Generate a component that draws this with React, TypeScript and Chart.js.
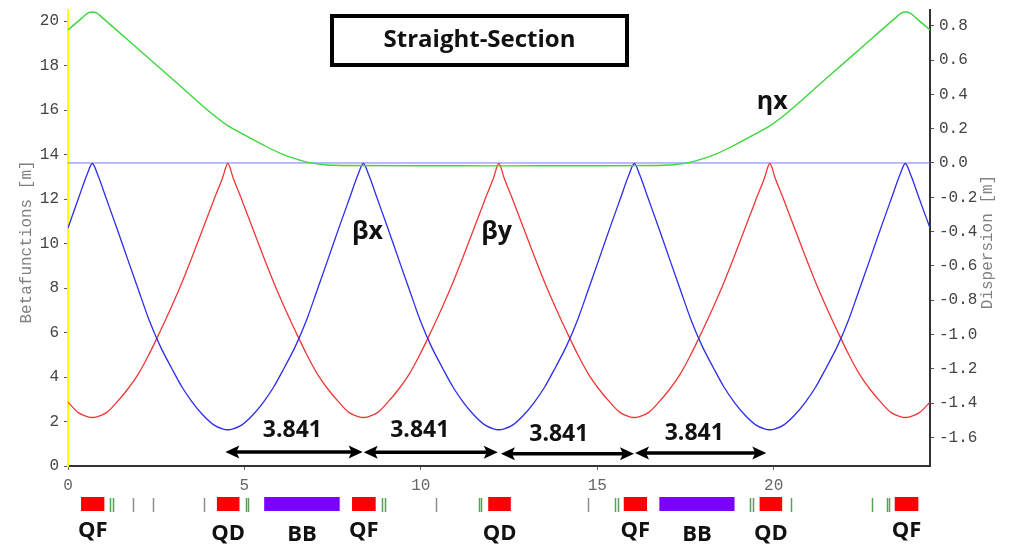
import React, { useEffect, useRef } from "react";
import { Chart, registerables } from "chart.js";

Chart.register(...registerables);

// ---------- data ----------
// longitudinal position s [m] for the beta functions
const S_POS = [
  0, 0.29, 0.54,
  0.69, 0.84, 1.09, 1.39, 1.69, 1.99, 2.29, 2.61, 2.93, 3.23, 3.53, 3.83, 4.13, 4.38,
  4.53, 4.68, 4.93, 5.23, 5.53, 5.83, 6.13, 6.45, 6.77, 7.07, 7.37, 7.67, 7.97, 8.22,
  8.37, 8.52, 8.77, 9.07, 9.37, 9.67, 9.97, 10.29, 10.61, 10.91, 11.21, 11.51, 11.81, 12.06,
  12.21, 12.36, 12.61, 12.91, 13.21, 13.51, 13.81, 14.13, 14.45, 14.75, 15.05, 15.35, 15.65, 15.9,
  16.05, 16.2, 16.45, 16.75, 17.05, 17.35, 17.65, 17.97, 18.29, 18.59, 18.89, 19.19, 19.49, 19.74,
  19.89, 20.04, 20.29, 20.59, 20.89, 21.19, 21.49, 21.81, 22.13, 22.43, 22.73, 23.03, 23.33, 23.58,
  23.73, 23.88, 24.13, 24.43,
];

// horizontal beta function βx [m] (blue)
const BETA_X = [
  10.7, 12.0, 13.1,
  13.6, 13.1, 12.0, 10.67, 9.3, 7.95, 6.6, 5.4, 4.42, 3.55, 2.85, 2.28, 1.85, 1.67,
  1.63, 1.67, 1.85, 2.28, 2.85, 3.55, 4.42, 5.4, 6.6, 7.95, 9.3, 10.67, 12.0, 13.1,
  13.6, 13.1, 12.0, 10.67, 9.3, 7.95, 6.6, 5.4, 4.42, 3.55, 2.85, 2.28, 1.85, 1.67,
  1.63, 1.67, 1.85, 2.28, 2.85, 3.55, 4.42, 5.4, 6.6, 7.95, 9.3, 10.67, 12.0, 13.1,
  13.6, 13.1, 12.0, 10.67, 9.3, 7.95, 6.6, 5.4, 4.42, 3.55, 2.85, 2.28, 1.85, 1.67,
  1.63, 1.67, 1.85, 2.28, 2.85, 3.55, 4.42, 5.4, 6.6, 7.95, 9.3, 10.67, 12.0, 13.1,
  13.6, 13.1, 12.0, 10.7,
];

// vertical beta function βy [m] (red)
const BETA_Y = [
  2.87, 2.4, 2.22,
  2.18, 2.22, 2.4, 2.88, 3.45, 4.13, 5.0, 6.05, 7.15, 8.25, 9.45, 10.7, 11.95, 12.95,
  13.6, 12.95, 11.95, 10.7, 9.45, 8.25, 7.15, 6.05, 5.0, 4.13, 3.45, 2.88, 2.4, 2.22,
  2.18, 2.22, 2.4, 2.88, 3.45, 4.13, 5.0, 6.05, 7.15, 8.25, 9.45, 10.7, 11.95, 12.95,
  13.6, 12.95, 11.95, 10.7, 9.45, 8.25, 7.15, 6.05, 5.0, 4.13, 3.45, 2.88, 2.4, 2.22,
  2.18, 2.22, 2.4, 2.88, 3.45, 4.13, 5.0, 6.05, 7.15, 8.25, 9.45, 10.7, 11.95, 12.95,
  13.6, 12.95, 11.95, 10.7, 9.45, 8.25, 7.15, 6.05, 5.0, 4.13, 3.45, 2.88, 2.4, 2.22,
  2.18, 2.22, 2.4, 2.87,
];

// dispersion ηx [m] (green) and its positions
const S_ETA = [
  0, 0.4, 0.55, 0.69, 0.83, 0.98, 2.0, 3.0, 4.23, 4.55, 4.88, 5.54, 6.0, 6.5, 7.0, 7.72,
  10.0, 12.21, 14.43,
  16.71, 17.43, 17.93, 18.43, 18.89, 19.55, 19.88, 20.2, 21.43, 22.43, 23.45, 23.6, 23.74, 23.88, 24.03, 24.43,
];
const ETA_X = [
  0.776, 0.846, 0.872, 0.88, 0.872, 0.846, 0.662, 0.482, 0.262, 0.215, 0.177, 0.104, 0.058, 0.021, -0.004, -0.015,
  -0.016, -0.017, -0.016,
  -0.015, -0.004, 0.021, 0.058, 0.104, 0.177, 0.215, 0.262, 0.482, 0.662, 0.846, 0.872, 0.88, 0.872, 0.846, 0.776,
];

// dispersion zero reference line
const ZERO_S = [0, 24.43];
const ZERO_ETA = [0, 0];

// axes
const S_MAX = 24.43;
const S_TICKS = [0, 5, 10, 15, 20];
const BETA_MIN = 0;
const BETA_MAX = 20.5;
const BETA_TICKS = [0, 2, 4, 6, 8, 10, 12, 14, 16, 18, 20];
const DISP_MIN = -1.767;
const DISP_MAX = 0.892;
const DISP_TICKS = [0.8, 0.6, 0.4, 0.2, 0, -0.2, -0.4, -0.6, -0.8, -1.0, -1.2, -1.4, -1.6];

// lattice elements [m]
const QUAD_FROM = [0.37, 4.22, 8.05, 11.91, 15.75, 19.6, 23.43];
const QUAD_TO = [1.03, 4.86, 8.72, 12.55, 16.41, 20.24, 24.1];
const QUAD_NAMES = ["QF", "QD", "QF", "QD", "QF", "QD", "QF"];
const BEND_FROM = [5.56, 16.76];
const BEND_TO = [7.7, 18.89];
const BEND_NAMES = ["BB", "BB"];
const GREEN_MARKS = [1.19, 1.28, 5.04, 5.11, 8.89, 8.97, 11.64, 11.71, 15.5, 15.59, 19.34, 19.41, 20.48, 22.79, 23.21, 23.28];
const GRAY_MARKS = [1.84, 2.42, 3.86, 10.42, 14.74];

// half-cell length arrows
const ARROW_FROM = [4.46, 8.38, 12.27, 16.07];
const ARROW_TO = [8.35, 12.18, 16.04, 19.79];
const ARROW_BETA = [0.63, 0.62, 0.55, 0.58];
const HALF_CELL_LABEL = "3.841";
const HALF_CELL_LABEL_S = [6.36, 9.97, 13.91, 17.75];
const HALF_CELL_LABEL_BETA = [1.62, 1.62, 1.4, 1.48];

const TITLE = "Straight-Section";

const MONO = '"Liberation Mono", "Courier New", monospace';
const BOLD_SANS = '"Open Sans", "Noto Sans", "DejaVu Sans", sans-serif';

const overlayPlugin = {
  id: "overlay",
  afterDraw(chart: any) {
    const { ctx } = chart;
    const xs = chart.scales.x;
    const yb = chart.scales.y;
    const yd = chart.scales.y1;
    const px = (s: number) => xs.getPixelForValue(s);

    ctx.save();

    // axis titles
    ctx.font = "16px " + MONO;
    ctx.fillStyle = "#808080";
    ctx.textAlign = "center";
    ctx.textBaseline = "middle";
    ctx.save();
    ctx.translate(27, 242);
    ctx.rotate(-Math.PI / 2);
    ctx.fillText("Betafunctions [m]", 0, 0);
    ctx.restore();
    ctx.save();
    ctx.translate(988, 242);
    ctx.rotate(-Math.PI / 2);
    ctx.fillText("Dispersion [m]", 0, 0);
    ctx.restore();

    // title box
    ctx.strokeStyle = "#000";
    ctx.lineWidth = 4;
    ctx.strokeRect(332, 16, 295, 49);
    ctx.fillStyle = "#111";
    ctx.font = "bold 24px " + BOLD_SANS;
    ctx.textAlign = "center";
    ctx.textBaseline = "middle";
    ctx.fillText(TITLE, 479.5, 40);

    // curve labels
    ctx.font = "bold 25px " + BOLD_SANS;
    ctx.fillText("ηx", px(19.96), yd.getPixelForValue(0.356));
    ctx.fillText("βx", px(8.49), yb.getPixelForValue(10.52));
    ctx.fillText("βy", px(12.15), yb.getPixelForValue(10.52));

    // half-cell arrows
    ctx.fillStyle = "#000";
    ctx.strokeStyle = "#000";
    for (let i = 0; i < ARROW_FROM.length; i++) {
      const x1 = px(ARROW_FROM[i]);
      const x2 = px(ARROW_TO[i]);
      const y = yb.getPixelForValue(ARROW_BETA[i]);
      ctx.lineWidth = 3.5;
      ctx.beginPath();
      ctx.moveTo(x1 + 8, y);
      ctx.lineTo(x2 - 8, y);
      ctx.stroke();
      ctx.beginPath();
      ctx.moveTo(x1, y);
      ctx.lineTo(x1 + 14, y - 6.5);
      ctx.lineTo(x1 + 11, y);
      ctx.lineTo(x1 + 14, y + 6.5);
      ctx.closePath();
      ctx.fill();
      ctx.beginPath();
      ctx.moveTo(x2, y);
      ctx.lineTo(x2 - 14, y - 6.5);
      ctx.lineTo(x2 - 11, y);
      ctx.lineTo(x2 - 14, y + 6.5);
      ctx.closePath();
      ctx.fill();
    }
    ctx.font = "bold 23px " + BOLD_SANS;
    ctx.fillStyle = "#111";
    ctx.textBaseline = "middle";
    for (let i = 0; i < HALF_CELL_LABEL_S.length; i++) {
      ctx.fillText(HALF_CELL_LABEL, px(HALF_CELL_LABEL_S[i]), yb.getPixelForValue(HALF_CELL_LABEL_BETA[i]));
    }

    // lattice
    const latTop = 497;
    const latH = 14;
    ctx.fillStyle = "#ff0000";
    for (let i = 0; i < QUAD_FROM.length; i++) {
      ctx.fillRect(px(QUAD_FROM[i]), latTop, px(QUAD_TO[i]) - px(QUAD_FROM[i]), latH);
    }
    ctx.fillStyle = "#7a00ff";
    for (let i = 0; i < BEND_FROM.length; i++) {
      ctx.fillRect(px(BEND_FROM[i]), latTop, px(BEND_TO[i]) - px(BEND_FROM[i]), latH);
    }
    ctx.lineWidth = 1.5;
    ctx.strokeStyle = "#55a055";
    GREEN_MARKS.forEach((s) => {
      const x = Math.round(px(s)) + 0.5;
      ctx.beginPath();
      ctx.moveTo(x, 498);
      ctx.lineTo(x, 512);
      ctx.stroke();
    });
    ctx.strokeStyle = "#8c8c8c";
    GRAY_MARKS.forEach((s) => {
      const x = Math.round(px(s)) + 0.5;
      ctx.beginPath();
      ctx.moveTo(x, 498);
      ctx.lineTo(x, 512);
      ctx.stroke();
    });

    ctx.fillStyle = "#111";
    ctx.font = "bold 22px " + BOLD_SANS;
    ctx.textAlign = "center";
    ctx.textBaseline = "alphabetic";
    for (let i = 0; i < QUAD_FROM.length; i++) {
      const name = QUAD_NAMES[i];
      ctx.fillText(name, px((QUAD_FROM[i] + QUAD_TO[i]) / 2), name === "QF" ? 537 : 540);
    }
    for (let i = 0; i < BEND_FROM.length; i++) {
      ctx.fillText(BEND_NAMES[i], px((BEND_FROM[i] + BEND_TO[i]) / 2), 541);
    }

    ctx.restore();
  },
};

function pts(xs: number[], ys: number[]) {
  return xs.map((x, i) => ({ x, y: ys[i] }));
}

export default function App() {
  const ref = useRef<HTMLCanvasElement | null>(null);

  useEffect(() => {
    if (!ref.current) return;
    const tickFont = { family: MONO, size: 16 };
    const chart = new Chart(ref.current, {
      type: "line",
      data: {
        datasets: [
          {
            label: "ηx",
            data: pts(S_ETA, ETA_X),
            yAxisID: "y1",
            borderColor: "rgb(60,215,60)",
            borderWidth: 1.4,
            pointRadius: 0,
            cubicInterpolationMode: "monotone",
          },
          {
            label: "βx",
            data: pts(S_POS, BETA_X),
            yAxisID: "y",
            borderColor: "rgb(45,45,235)",
            borderWidth: 1.3,
            pointRadius: 0,
            cubicInterpolationMode: "monotone",
          },
          {
            label: "βy",
            data: pts(S_POS, BETA_Y),
            yAxisID: "y",
            borderColor: "rgb(240,55,55)",
            borderWidth: 1.3,
            pointRadius: 0,
            cubicInterpolationMode: "monotone",
          },
          {
            label: "zero",
            data: pts(ZERO_S, ZERO_ETA),
            yAxisID: "y1",
            borderColor: "rgb(120,120,255)",
            borderWidth: 1,
            pointRadius: 0,
          },
        ],
      },
      options: {
        animation: false,
        responsive: false,
        maintainAspectRatio: false,
        layout: { padding: { top: 10, left: 0, right: 0, bottom: 0 } },
        plugins: { legend: { display: false }, tooltip: { enabled: false } },
        scales: {
          x: {
            type: "linear",
            min: 0,
            max: S_MAX,
            afterBuildTicks: (s: any) => {
              s.ticks = S_TICKS.map((v) => ({ value: v }));
            },
            afterFit: (s: any) => {
              s.height = 79;
              s.paddingLeft = 0;
              s.paddingRight = 0;
            },
            grid: { drawOnChartArea: false, drawTicks: true, tickLength: 4, color: "#666" },
            border: { color: "#333", width: 2 },
            ticks: { font: tickFont, color: "#666", padding: 6, maxRotation: 0, autoSkip: false },
          },
          y: {
            type: "linear",
            position: "left",
            min: BETA_MIN,
            max: BETA_MAX,
            afterBuildTicks: (s: any) => {
              s.ticks = BETA_TICKS.map((v) => ({ value: v }));
            },
            afterFit: (s: any) => {
              s.width = 68;
              s.paddingTop = 0;
              s.paddingBottom = 0;
            },
            grid: { drawOnChartArea: false, drawTicks: true, tickLength: 4, color: "#555" },
            border: { color: "#ffff00", width: 2 },
            ticks: { font: tickFont, color: "#444", padding: 5, autoSkip: false, callback: (v: any) => String(v) },
          },
          y1: {
            type: "linear",
            position: "right",
            min: DISP_MIN,
            max: DISP_MAX,
            afterBuildTicks: (s: any) => {
              s.ticks = DISP_TICKS.map((v) => ({ value: v }));
            },
            afterFit: (s: any) => {
              s.width = 79;
              s.paddingTop = 0;
              s.paddingBottom = 0;
            },
            grid: { drawOnChartArea: false, drawTicks: true, tickLength: 4, color: "#555" },
            border: { color: "#333", width: 2 },
            ticks: {
              font: tickFont,
              color: "#444",
              padding: 5,
              autoSkip: false,
              callback: (v: any) => Number(v).toFixed(1),
            },
          },
        },
      },
      plugins: [overlayPlugin],
    } as any);
    return () => chart.destroy();
  }, []);

  return (
    <div style={{ position: "fixed", left: 0, top: 0, width: 1009, height: 545, background: "#fff" }}>
      <canvas ref={ref} width={1009} height={545} style={{ display: "block", width: 1009, height: 545 }} />
    </div>
  );
}
